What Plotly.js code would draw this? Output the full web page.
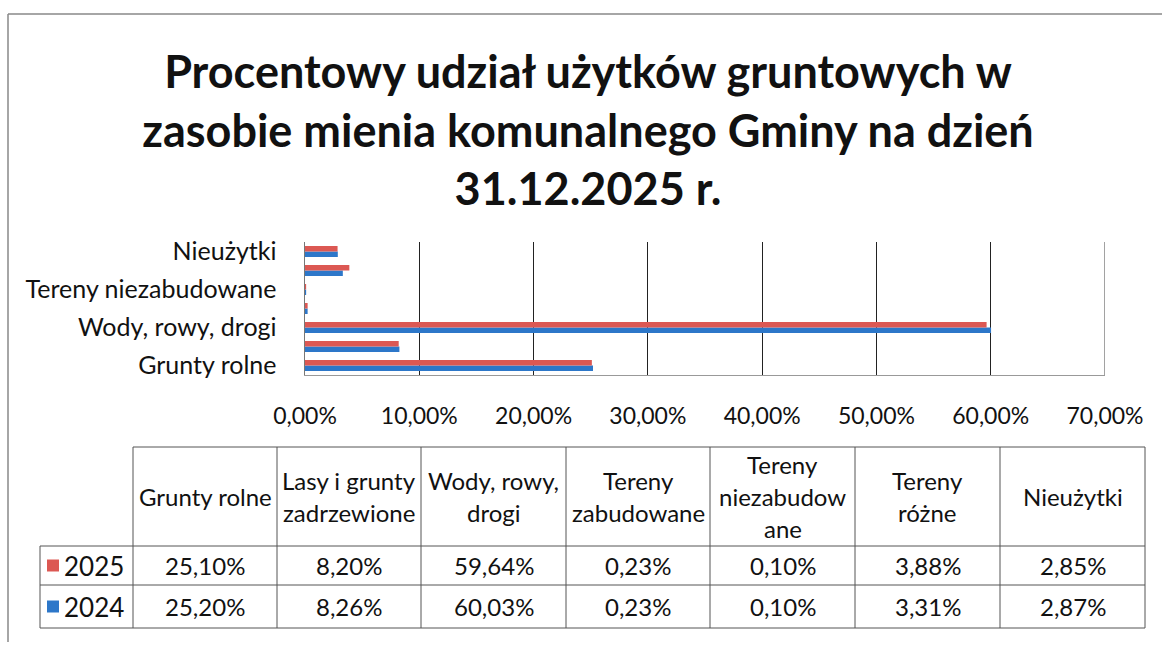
<!DOCTYPE html>
<html>
<head>
<meta charset="utf-8">
<script src="https://cdn.plot.ly/plotly-3.0.1.min.js"></script>
<style>
  html, body { margin: 0; padding: 0; background: #fff; }
  #chart { width: 1162px; height: 647px; }
</style>
</head>
<body>
<div id="chart"></div>
<script>
// ---- data ----
const categories = ['Grunty rolne', 'Lasy i grunty zadrzewione', 'Wody, rowy, drogi', 'Tereny zabudowane', 'Tereny niezabudowane', 'Tereny różne', 'Nieużytki'];
const tableHeaders = ['Grunty rolne', 'Lasy i grunty<br>zadrzewione', 'Wody, rowy,<br>drogi', 'Tereny<br>zabudowane', 'Tereny<br>niezabudow<br>ane', 'Tereny<br>różne', 'Nieużytki'];
const values2025 = [25.10, 8.20, 59.64, 0.23, 0.10, 3.88, 2.85];
const values2024 = [25.20, 8.26, 60.03, 0.23, 0.10, 3.31, 2.87];
const seriesNames = ['2025', '2024'];
const xTickVals = [0, 10, 20, 30, 40, 50, 60, 70];
const yTickLabels = ['Grunty rolne', 'Wody, rowy, drogi', 'Tereny niezabudowane', 'Nieużytki'];
const titleText = 'Procentowy udział użytków gruntowych w<br>zasobie mienia komunalnego Gminy na dzień<br>31.12.2025 r.';

// ---- style ----
const W = 1162, H = 647;
const RED = '#dc5853', BLUE = '#2d77c9';
const FONT = 'Lato, "Open Sans", sans-serif';
const px = x => x / W;
const py = y => 1 - y / H;
const fmt = v => v.toFixed(2).replace('.', ',') + '%';
const X_MAX = xTickVals[xTickVals.length - 1];

const traces = [
  { type: 'bar', orientation: 'h', name: seriesNames[1], y: categories, x: values2024,
    marker: { color: BLUE }, hoverinfo: 'x+y' },
  { type: 'bar', orientation: 'h', name: seriesNames[0], y: categories, x: values2025,
    marker: { color: RED }, hoverinfo: 'x+y' }
];

// ---- table built from data ----
const colX = [133, 277, 421, 566, 710, 855, 1000, 1145];
const rowY = [447, 546, 585, 628];
const LINE = { color: '#555', width: 1 };
const shapes = [];
const annotations = [];

// outer frame
shapes.push({ type: 'line', xref: 'paper', yref: 'paper', x0: px(8), x1: px(1162), y0: py(14), y1: py(14), line: { color: '#888', width: 1.5 } });
shapes.push({ type: 'line', xref: 'paper', yref: 'paper', x0: px(8), x1: px(8), y0: py(14), y1: py(642), line: { color: '#888', width: 1.5 } });

// gridline at the right end of the x axis (70%)
shapes.push({ type: 'line', xref: 'x', yref: 'paper', x0: X_MAX, x1: X_MAX, y0: py(375), y1: py(242), line: { color: '#444', width: 1 } });

// horizontal lines
shapes.push({ type: 'line', xref: 'paper', yref: 'paper', x0: px(colX[0]), x1: px(colX[7]), y0: py(rowY[0]), y1: py(rowY[0]), line: LINE });
for (let i = 1; i < rowY.length; i++) {
  shapes.push({ type: 'line', xref: 'paper', yref: 'paper', x0: px(40), x1: px(colX[7]), y0: py(rowY[i]), y1: py(rowY[i]), line: LINE });
}
// vertical lines
shapes.push({ type: 'line', xref: 'paper', yref: 'paper', x0: px(40), x1: px(40), y0: py(rowY[1]), y1: py(rowY[3]), line: LINE });
colX.forEach(x => {
  shapes.push({ type: 'line', xref: 'paper', yref: 'paper', x0: px(x), x1: px(x), y0: py(rowY[0]), y1: py(rowY[3]), line: LINE });
});

// header texts (each line separately for line spacing)
const HDR_LS = 32;
tableHeaders.forEach((h, i) => {
  const lines = h.split('<br>');
  const cx = (colX[i] + colX[i + 1]) / 2;
  const cy = (rowY[0] + rowY[1]) / 2;
  lines.forEach((ln, k) => {
    const yy = cy + (k - (lines.length - 1) / 2) * HDR_LS;
    annotations.push({ xref: 'paper', yref: 'paper', x: px(cx), y: py(yy), xanchor: 'center', yanchor: 'middle',
      text: ln, showarrow: false, font: { family: FONT, size: 24, color: '#111' } });
  });
});

// value rows
[[values2025, RED, seriesNames[0]], [values2024, BLUE, seriesNames[1]]].forEach(([vals, col, name], r) => {
  const cy = (rowY[r + 1] + rowY[r + 2]) / 2;
  shapes.push({ type: 'rect', xref: 'paper', yref: 'paper', x0: px(47), x1: px(59), y0: py(cy - 6), y1: py(cy + 6), line: { width: 0 }, fillcolor: col });
  annotations.push({ xref: 'paper', yref: 'paper', x: px(62), y: py(cy), xanchor: 'left', yanchor: 'middle',
    text: name, showarrow: false, font: { family: FONT, size: 26, color: '#111' } });
  vals.forEach((v, i) => {
    const cx = (colX[i] + colX[i + 1]) / 2;
    annotations.push({ xref: 'paper', yref: 'paper', x: px(cx), y: py(cy), xanchor: 'center', yanchor: 'middle',
      text: fmt(v), showarrow: false, font: { family: FONT, size: 24, color: '#111' } });
  });
});

const layout = {
  width: W, height: H,
  margin: { l: 0, r: 0, t: 0, b: 0 },
  paper_bgcolor: '#fff', plot_bgcolor: '#fff',
  separators: ',.',
  showlegend: false,
  barmode: 'group', bargap: 0.42, bargroupgap: 0,
  font: { family: FONT, color: '#111' },
  title: {
    text: titleText,
    x: px(588), xanchor: 'center',
    y: py(88), yanchor: 'top', yref: 'container',
    font: { family: FONT, size: 45, color: '#111', weight: 'bold' }
  },
  xaxis: {
    domain: [px(305), px(1105)],
    range: [0, X_MAX], tickmode: 'array', tickvals: xTickVals, ticktext: xTickVals.map(fmt),
    showgrid: true, gridcolor: '#222', gridwidth: 1,
    zeroline: false, showline: true, linecolor: '#999', linewidth: 1,
    ticks: '', ticklabelstandoff: 20, automargin: false,
    tickfont: { family: FONT, size: 23, color: '#111' }, fixedrange: true
  },
  yaxis: {
    domain: [py(375), py(242)],
    type: 'category', categoryorder: 'array', categoryarray: categories,
    range: [-0.5, categories.length - 0.5],
    tickvals: yTickLabels, showgrid: false, zeroline: false,
    showline: true, linecolor: '#777', linewidth: 1.5,
    ticks: '', ticklabelstandoff: 22, automargin: false,
    tickfont: { family: FONT, size: 25, color: '#111' }, fixedrange: true
  },
  shapes: shapes,
  annotations: annotations
};

Plotly.newPlot('chart', traces, layout, { displayModeBar: false, staticPlot: true });
</script>
</body>
</html>
